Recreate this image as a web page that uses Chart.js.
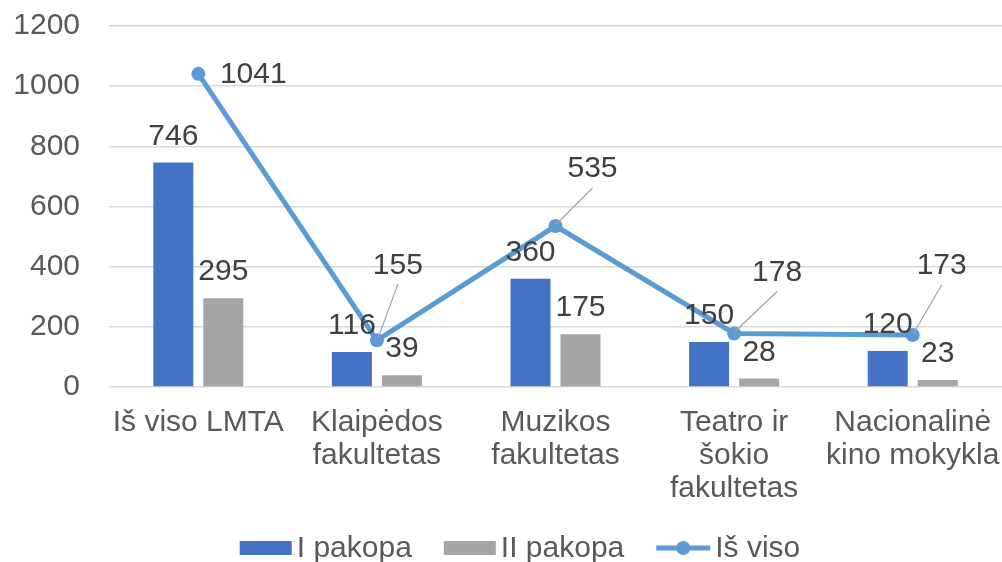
<!DOCTYPE html>
<html>
<head>
<meta charset="utf-8">
<script src="https://cdn.jsdelivr.net/npm/chart.js@4"></script>
<style>
  html, body { margin: 0; padding: 0; background: #fff; }
  #wrap { width: 1002px; height: 562px; position: relative; }
</style>
</head>
<body>
<div id="wrap"><canvas id="chart"></canvas></div>
<script>
// --------- data ---------
const categories = [
    "Iš viso LMTA",
    ["Klaipėdos", "fakultetas"],
    ["Muzikos", "fakultetas"],
    ["Teatro ir", "šokio", "fakultetas"],
    ["Nacionalinė", "kino mokykla"]
];
const pakopa1 = [746, 116, 360, 150, 120];
const pakopa2 = [295, 39, 175, 28, 23];
const isViso = [1041, 155, 535, 178, 173];
const yTicks = [0, 200, 400, 600, 800, 1000, 1200];
const seriesNames = ["I pakopa", "II pakopa", "Iš viso"];

// label placement for the line series (text centre relative to point)
const lineLabelOffsets = [[55, 0], [21, -76], [37, -58], [43, -62], [29, -70]];

const FONT = "'Liberation Sans', Arial, sans-serif";
const BLUE = '#4472C4', GRAY = '#A5A5A5', LINE = '#5B9BD5';

// --------- data labels + leader lines ---------
const labelsPlugin = {
    id: 'labels',
    afterDatasetsDraw(chart) {
        const ctx = chart.ctx;
        ctx.save();
        ctx.font = '30px ' + FONT;
        ctx.fillStyle = '#404040';
        [0, 1].forEach(di => {
            chart.getDatasetMeta(di).data.forEach((el, i) => {
                ctx.textAlign = 'center';
                ctx.textBaseline = 'alphabetic';
                ctx.fillText(chart.data.datasets[di].data[i], el.x, el.y - 18);
            });
        });
        chart.getDatasetMeta(2).data.forEach((el, i) => {
            const [dx, dy] = lineLabelOffsets[i];
            const tx = el.x + dx, ty = el.y + dy;
            if (Math.abs(dy) > 30) {
                ctx.strokeStyle = '#A6A6A6';
                ctx.lineWidth = 1.3;
                ctx.beginPath();
                ctx.moveTo(tx, ty + 20);
                ctx.lineTo(el.x + 1, el.y - 2);
                ctx.stroke();
            }
            ctx.textAlign = 'center';
            ctx.textBaseline = 'middle';
            ctx.fillText(isViso[i], tx, ty + 1);
        });
        ctx.restore();
    }
};

// --------- legend ---------
const legendPlugin = {
    id: 'customLegend',
    afterDraw(chart) {
        const ctx = chart.ctx;
        ctx.save();
        ctx.font = '30px ' + FONT;
        const boxW = 52, textGap = 5, itemGap = 32;
        const widths = seriesNames.map(n => boxW + textGap + ctx.measureText(n).width);
        const total = widths.reduce((a, b) => a + b, 0) + itemGap * (seriesNames.length - 1);
        let x = (chart.width - total) / 2 + 18;
        const y = 548;
        seriesNames.forEach((name, i) => {
            if (i < 2) {
                ctx.fillStyle = i === 0 ? BLUE : GRAY;
                ctx.fillRect(x, y - 7, boxW, 14);
            } else {
                ctx.strokeStyle = LINE;
                ctx.lineWidth = 5;
                ctx.beginPath();
                ctx.moveTo(x, y);
                ctx.lineTo(x + boxW + 2, y);
                ctx.stroke();
                ctx.fillStyle = LINE;
                ctx.beginPath();
                ctx.arc(x + boxW / 2 + 1, y, 7, 0, Math.PI * 2);
                ctx.fill();
            }
            ctx.fillStyle = '#595959';
            ctx.textAlign = 'left';
            ctx.textBaseline = 'middle';
            ctx.fillText(name, x + boxW + textGap + (i === 2 ? 2 : 0), y + 1);
            x += widths[i] + itemGap;
        });
        ctx.restore();
    }
};

new Chart(document.getElementById('chart'), {
    data: {
        labels: categories,
        datasets: [
            {
                type: 'bar', label: seriesNames[0], data: pakopa1,
                backgroundColor: BLUE, order: 1,
                categoryPercentage: 0.56, barPercentage: 0.8
            },
            {
                type: 'bar', label: seriesNames[1], data: pakopa2,
                backgroundColor: GRAY, order: 1,
                categoryPercentage: 0.56, barPercentage: 0.8
            },
            {
                type: 'line', label: seriesNames[2], data: isViso,
                borderColor: LINE, backgroundColor: LINE, borderWidth: 5,
                pointRadius: 7, pointHoverRadius: 7, pointBorderWidth: 0,
                pointBackgroundColor: LINE, tension: 0, order: 0
            }
        ]
    },
    options: {
        responsive: true,
        maintainAspectRatio: false,
        animation: false,
        layout: { autoPadding: false, padding: { top: 26, right: 0, left: 0, bottom: 50 } },
        plugins: {
            legend: { display: false },
            tooltip: { enabled: false }
        },
        scales: {
            x: {
                grid: { display: false, drawTicks: false },
                border: { display: false },
                ticks: {
                    color: '#595959',
                    font: { family: FONT, size: 30, lineHeight: 1.1 },
                    padding: 19,
                    maxRotation: 0,
                    autoSkip: false
                },
                afterFit: s => {
                    s.height = 562 - 387 - 50;
                    s.paddingLeft = 0;
                    s.paddingRight = 0;
                }
            },
            y: {
                min: 0,
                max: 1200,
                afterBuildTicks: s => { s.ticks = yTicks.map(v => ({ value: v })); },
                grid: { color: '#D9D9D9', lineWidth: 1.5, drawTicks: false },
                border: { display: false },
                ticks: {
                    color: '#595959',
                    font: { family: FONT, size: 30 },
                    padding: 29,
                    callback: v => String(v)
                },
                afterFit: s => {
                    s.width = 109;
                    s.paddingTop = 0;
                    s.paddingBottom = 0;
                }
            }
        }
    },
    plugins: [labelsPlugin, legendPlugin]
});
</script>
</body>
</html>
